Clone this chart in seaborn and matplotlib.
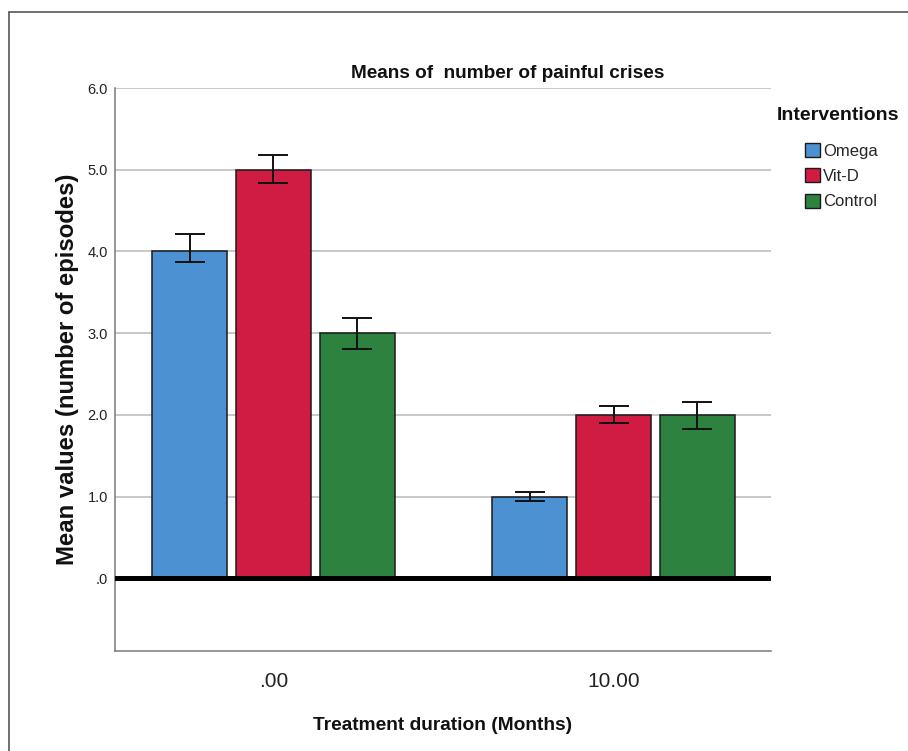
import seaborn as sns
import numpy as np
import matplotlib.pyplot as plt
import pandas as pd
from matplotlib.lines import Line2D
from matplotlib.patches import Patch

# data
durations = ['.00', '.00', '.00', '10.00', '10.00', '10.00']
groups = ['Omega', 'Vit-D', 'Control', 'Omega', 'Vit-D', 'Control']
means = [4.0, 5.0, 3.0, 1.0, 2.0, 2.0]
err_low = [0.13, 0.16, 0.20, 0.06, 0.10, 0.17]
err_high = [0.21, 0.18, 0.19, 0.06, 0.11, 0.16]

group_order = ['Omega', 'Vit-D', 'Control']
duration_order = ['.00', '10.00']
y_ticks = [0, 1, 2, 3, 4, 5, 6]
y_tick_labels = ['.0', '1.0', '2.0', '3.0', '4.0', '5.0', '6.0']

palette = {'Omega': '#4C91D2', 'Vit-D': '#D01B43', 'Control': '#2C823E'}

df = pd.DataFrame({'duration': durations, 'group': groups, 'mean': means,
                   'lo': err_low, 'hi': err_high})

sns.set_theme(style='white')
plt.rcParams['font.family'] = ['Liberation Sans', 'DejaVu Sans']

fig = plt.figure(figsize=(9.08, 7.51), dpi=100)
ax = fig.add_axes([115 / 908, 1 - 651 / 751, (771 - 115) / 908, (651 - 88) / 751])

ax.set_axisbelow(True)
ax.grid(axis='y', color='#c4c4c4', linewidth=1.3)

sns.barplot(data=df, x='duration', y='mean', hue='group', order=duration_order,
            hue_order=group_order, palette=palette, errorbar=None,
            width=0.74, gap=0.1, edgecolor='#1a1a1a', linewidth=1.1,
            saturation=1, legend=False, ax=ax)

# error bars at the centres of the drawn bars
for g, cont in zip(group_order, ax.containers):
    for d, bar in zip(duration_order, cont):
        row = df[(df['group'] == g) & (df['duration'] == d)].iloc[0]
        xc = bar.get_x() + bar.get_width() / 2
        ax.errorbar(xc, row['mean'], yerr=[[row['lo']], [row['hi']]],
                    fmt='none', ecolor='#111111', elinewidth=1.4,
                    capsize=11, capthick=1.4, zorder=5)

ax.axhline(0, color='black', linewidth=3.6, zorder=6)

ax.set_xlim(-0.466, 1.463)
ax.set_ylim(-0.89, 6.0)
ax.set_yticks(y_ticks)
ax.set_yticklabels(y_tick_labels, fontsize=10.5, color='#222222')
ax.set_xticks(range(len(duration_order)))
ax.set_xticklabels(duration_order, fontsize=15, color='#222222')
ax.tick_params(axis='y', length=0, pad=5)
ax.tick_params(axis='x', length=0, pad=15)

for s in ['top', 'right']:
    ax.spines[s].set_visible(False)
for s in ['left', 'bottom']:
    ax.spines[s].set_color('#7a7a7a')
    ax.spines[s].set_linewidth(1.1)

ax.set_xlabel('Treatment duration (Months)', fontweight='bold',
              fontsize=13.8, labelpad=19, color='#111111')
ax.set_ylabel('Mean values (number of episodes)', fontweight='bold',
              fontsize=17.2, labelpad=6, color='#111111')

fig.text(508 / 908, 1 - 74 / 751, 'Means of  number of painful crises',
         fontweight='bold', fontsize=13.7, ha='center', va='center',
         color='#111111')

# legend
fig.text(838 / 908, 1 - 115 / 751, 'Interventions', fontweight='bold',
         fontsize=14, ha='center', va='center', color='#111111')
handles = [Patch(facecolor=palette[g], edgecolor='#1a1a1a', linewidth=1.0, label=g)
           for g in group_order]
fig.legend(handles=handles, loc='upper left',
           bbox_to_anchor=(805 / 908, 1 - 143 / 751), frameon=False,
           borderaxespad=0, borderpad=0,
           prop={'size': 12}, handlelength=0.9, handleheight=0.9,
           handletextpad=0.2, labelspacing=0.58)

# outer frame of the original figure
fig.add_artist(Line2D([9 / 908, 9 / 908], [0, 1 - 12 / 751], transform=fig.transFigure,
                      color='#555555', linewidth=1.2))
fig.add_artist(Line2D([9 / 908, 1], [1 - 12 / 751, 1 - 12 / 751], transform=fig.transFigure,
                      color='#555555', linewidth=1.2))

fig.savefig('out.png', dpi=100)
